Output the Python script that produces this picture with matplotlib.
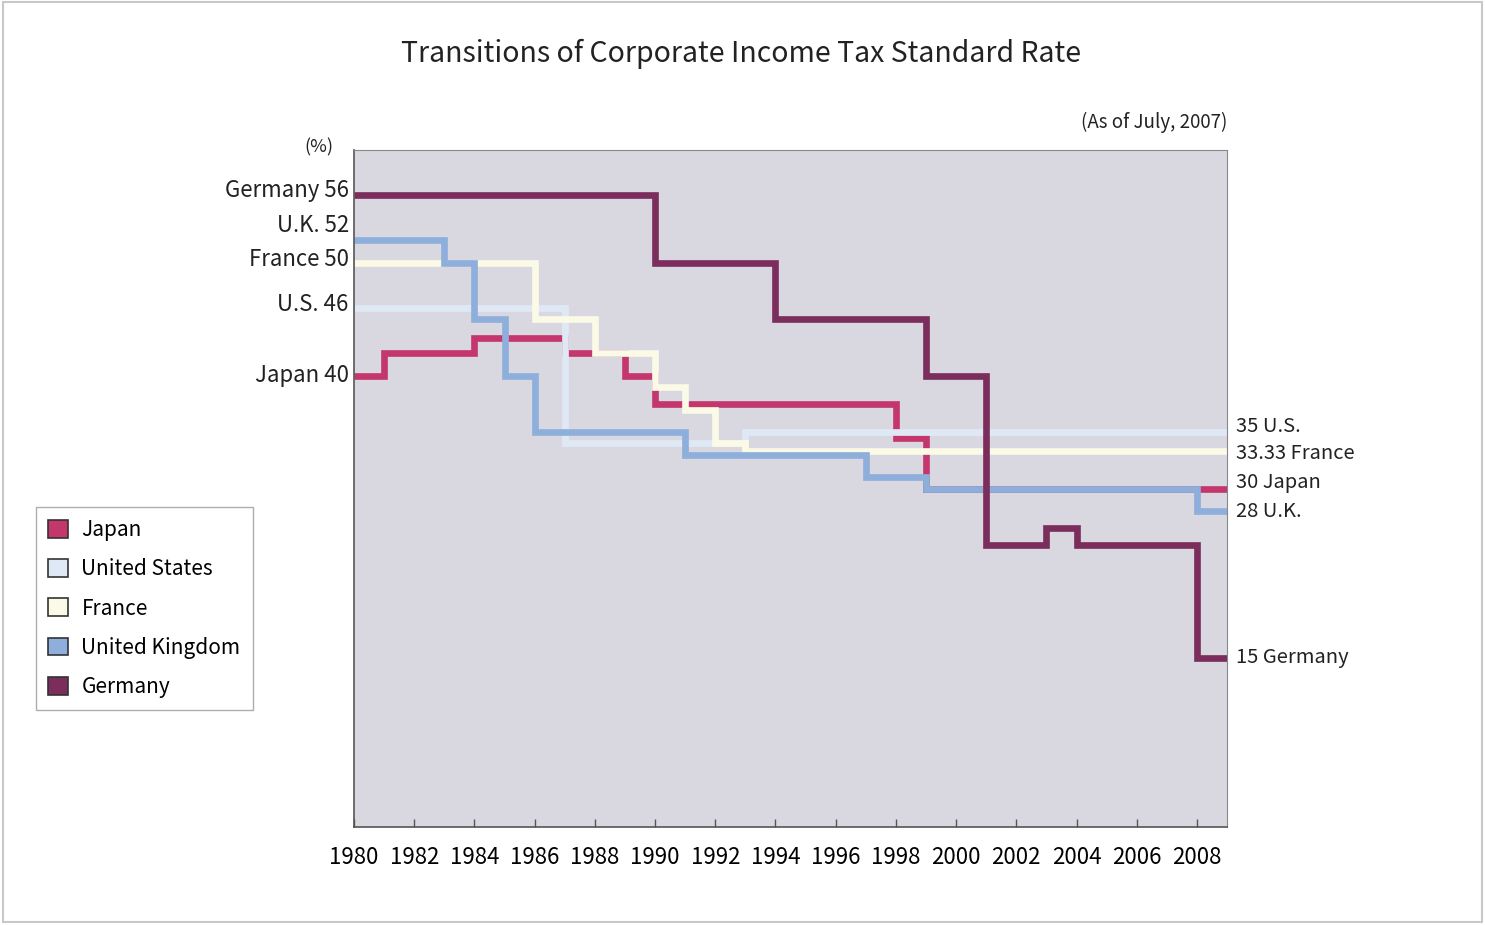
import numpy as np
import matplotlib.pyplot as plt
from matplotlib.patches import Patch, Rectangle

plt.rcParams['font.family'] = ['Noto Sans CJK JP', 'DejaVu Sans']

# step data: year the rate took effect, rate (%)
anos_jp = [1980, 1981, 1984, 1987, 1989, 1990, 1998, 1999]
taxa_jp = [40, 42, 43.3, 42, 40, 37.5, 34.5, 30]
anos_us = [1980, 1987, 1993]
taxa_us = [46, 34, 35]
anos_fr = [1980, 1986, 1988, 1990, 1991, 1992, 1993]
taxa_fr = [50, 45, 42, 39, 37, 34, 33.33]
anos_uk = [1980, 1983, 1984, 1985, 1986, 1991, 1997, 1999, 2008]
taxa_uk = [52, 50, 45, 40, 35, 33, 31, 30, 28]
anos_de = [1980, 1990, 1994, 1999, 2001, 2003, 2004, 2008]
taxa_de = [56, 50, 45, 40, 25, 26.5, 25, 15]

ano_fim = 2009
anos_ticks = list(range(1980, 2009, 2))

rotulos_esq = [('Germany 56', 56.4), ('U.K. 52', 53.3), ('France 50', 50.3),
               ('U.S. 46', 46.3), ('Japan 40', 40.0)]
rotulos_dir = [('35 U.S.', 35.5), ('33.33 France', 33.1), ('30 Japan', 30.5),
               ('28 U.K.', 28.0), ('15 Germany', 15.0)]

series = [
    ('Japan', anos_jp, taxa_jp, '#c4376c'),
    ('United States', anos_us, taxa_us, '#dfe9f6'),
    ('France', anos_fr, taxa_fr, '#fbfae6'),
    ('United Kingdom', anos_uk, taxa_uk, '#8eaedb'),
    ('Germany', anos_de, taxa_de, '#7b2d5c'),
]

fig = plt.figure(figsize=(14.85, 9.25), dpi=100)
fig.patches.append(Rectangle((0.002, 0.003), 0.996, 0.995, transform=fig.transFigure,
                             fill=False, edgecolor='#c8c8c8', linewidth=1.5))

ax = fig.add_axes([0.2384, 0.1059, 0.5879, 0.7319])
ax.set_facecolor('#d9d8e0')

for nome, anos, taxas, cor in series:
    x = list(anos) + [ano_fim]
    y = list(taxas) + [taxas[-1]]
    ax.step(x, y, where='post', color=cor, linewidth=4.8,
            solid_joinstyle='miter', solid_capstyle='butt')

ax.set_xlim(1980, ano_fim)
ax.set_ylim(0, 60)
ax.set_xticks(anos_ticks)
ax.set_xticklabels([str(a) for a in anos_ticks], fontsize=16)
ax.tick_params(axis='x', direction='in', length=6, width=1, color='#555555', pad=14)
ax.set_yticks([])
for lado in ['left', 'bottom']:
    ax.spines[lado].set_color('#555555')
    ax.spines[lado].set_linewidth(1.2)
for lado in ['top', 'right']:
    ax.spines[lado].set_color('#888888')
    ax.spines[lado].set_linewidth(0.8)

for txt, yv in rotulos_esq:
    ax.text(-0.006, yv, txt, transform=ax.get_yaxis_transform(), ha='right',
            va='center', fontsize=16, color='#222222')
for txt, yv in rotulos_dir:
    ax.text(1.01, yv, txt, transform=ax.get_yaxis_transform(), ha='left',
            va='center', fontsize=14.5, color='#222222')

ax.text(-0.04, 0.99, '(%)', transform=ax.transAxes, ha='center', va='bottom',
        fontsize=13, color='#222222')
ax.text(1.0, 1.025, '(As of July, 2007)', transform=ax.transAxes, ha='right',
        va='bottom', fontsize=13.5, color='#222222')
fig.text(0.499, 0.942, 'Transitions of Corporate Income Tax Standard Rate',
         ha='center', va='center', fontsize=20.5, color='#222222')

handles = [Patch(facecolor=cor, edgecolor='#333333', linewidth=1.2, label=nome)
           for nome, _, _, cor in series]
leg = fig.legend(handles=handles, loc='upper left', bbox_to_anchor=(0.024, 0.452),
                 fontsize=15, frameon=True, fancybox=False, edgecolor='#999999',
                 handlelength=0.95, handleheight=0.95, handletextpad=0.65,
                 labelspacing=0.82, borderpad=0.6, borderaxespad=0)
leg.get_frame().set_linewidth(1.0)

plt.savefig('out.png', dpi=100)
